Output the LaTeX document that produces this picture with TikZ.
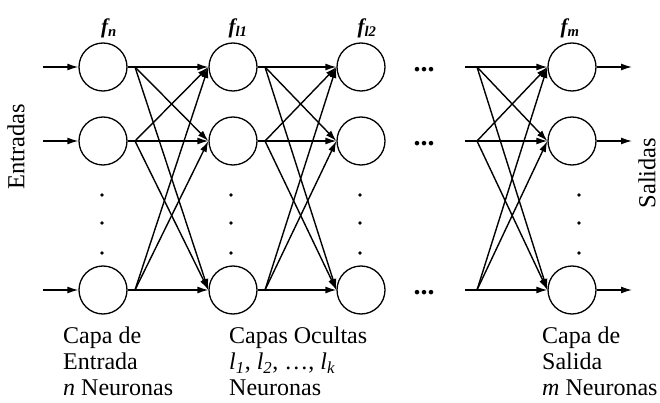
\documentclass[tikz,border=0pt]{standalone}
\usepackage{fontspec}
\setmainfont{Liberation Serif}
\usetikzlibrary{arrows.meta}
\begin{document}
\begin{tikzpicture}[x=1pt,y=-1pt,
  neuron/.style={circle,draw,minimum size=48pt,inner sep=0pt,line width=1.3pt},
  conn/.style={line width=1.4pt,-{Latex[length=11pt,width=7pt]}},
  wire/.style={line width=1.4pt},
  lbl/.style={font=\fontsize{24}{26}\selectfont,align=left,anchor=north west,inner sep=0pt},
  side/.style={font=\fontsize{24.5}{27}\selectfont,rotate=90,inner sep=0pt},
  flab/.style={font=\fontsize{21}{21}\selectfont\bfseries\itshape,inner sep=0pt},
  hdots/.style={font=\fontsize{28}{28}\selectfont\bfseries,inner sep=0pt},
  vdot/.style={circle,fill,inner sep=0pt,minimum size=3.6pt}]
\useasboundingbox (0,0) rectangle (660,403);

% neurons
\foreach \c/\x in {a/103,b/233,c/361,d/572}{
  \foreach \r/\y in {1/67,2/141,3/290}{
    \node[neuron] (\c\r) at (\x,\y) {};
  }
}

% vertical dots
\foreach \x [count=\i] in {102,231,360,579}{
  \foreach \y [count=\j] in {195,223,253}{
    \node[vdot] (v\i\j) at (\x,\y) {};
  }
}

% horizontal dots
\node[hdots] (h1) at (424,70) {...};
\node[hdots] (h2) at (424,144) {...};
\node[hdots] (h3) at (424,293) {...};

% inputs and outputs
\foreach \r/\y in {1/67,2/141,3/290}{
  \coordinate (in\r) at (43,\y);
  \coordinate (out\r) at (632,\y);
  \draw[conn] (in\r) -- (a\r.west);
  \draw[conn] (d\r.east) -- (out\r);
}

% layer a -> b
\foreach \r/\y in {1/67,2/141,3/290}{
  \coordinate (fa\r) at (135,\y);
  \draw[wire] (a\r.east) -- (fa\r);
  \foreach \t in {1,2,3}{ \draw[conn] (fa\r) -- (b\t.west); }
}
% layer b -> c
\foreach \r/\y in {1/67,2/141,3/290}{
  \coordinate (fb\r) at (265,\y);
  \draw[wire] (b\r.east) -- (fb\r);
  \foreach \t in {1,2,3}{ \draw[conn] (fb\r) -- (c\t.west); }
}
% last hidden -> output
\foreach \r/\y in {1/67,2/141,3/290}{
  \coordinate (s\r) at (465,\y);
  \coordinate (fd\r) at (477,\y);
  \draw[wire] (s\r) -- (fd\r);
  \foreach \t in {1,2,3}{ \draw[conn] (fd\r) -- (d\t.west); }
}

% function labels
\node[flab] (fn) at (109,28) {f\textsubscript{n}};
\node[flab] (fl1) at (238,28) {f\textsubscript{l1}};
\node[flab] (fl2) at (367,28) {f\textsubscript{l2}};
\node[flab] (fm) at (570,28) {f\textsubscript{m}};

% side labels
\node[side] (ent) at (16,147) {Entradas};
\node[side] (sal) at (647,173) {Salidas};

% bottom labels
\node[lbl] (l1) at (63,327) {Capa de\\Entrada\\\textit{n} Neuronas};
\node[lbl] (l2) at (229,327) {Capas Ocultas\\\textit{l}\textsubscript{\textit{1}}, \textit{l}\textsubscript{\textit{2}}, \dots, \textit{l}\textsubscript{\textit{k}}\\Neuronas};
\node[lbl] (l3) at (542,327) {Capa de\\Salida\\\textit{m} Neuronas};
\end{tikzpicture}
\end{document}
